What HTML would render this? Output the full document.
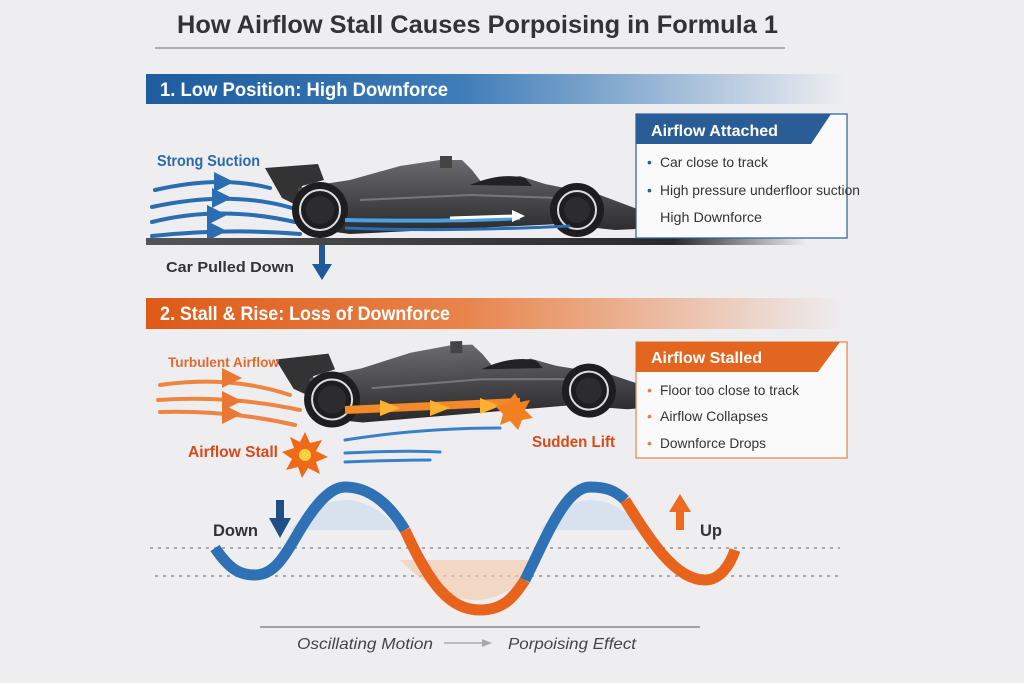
<!DOCTYPE html>
<html><head><meta charset="utf-8"><style>
html,body{margin:0;padding:0;background:#eeeef1;}
svg{display:block;}
text{font-family:"Liberation Sans",sans-serif;}
</style></head><body>
<svg width="1024" height="683" viewBox="0 0 1024 683" xmlns="http://www.w3.org/2000/svg">
<defs>
<linearGradient id="gb" x1="0" x2="1"><stop offset="0" stop-color="#1d5c9e"/><stop offset="0.45" stop-color="#3f7db8"/><stop offset="1" stop-color="#3f7db8" stop-opacity="0"/></linearGradient>
<linearGradient id="go" x1="0" x2="1"><stop offset="0" stop-color="#de5a18"/><stop offset="0.45" stop-color="#e8834a"/><stop offset="1" stop-color="#e8834a" stop-opacity="0"/></linearGradient>
<linearGradient id="gt" x1="0" x2="1"><stop offset="0" stop-color="#555"/><stop offset="0.8" stop-color="#2a2a2a"/><stop offset="1" stop-color="#2a2a2a" stop-opacity="0"/></linearGradient>
<linearGradient id="gbody" x1="0" y1="0" x2="0" y2="1"><stop offset="0" stop-color="#6a6a6e"/><stop offset="1" stop-color="#2a2a2d"/></linearGradient>
<marker id="ab" viewBox="0 0 10 10" refX="5" refY="5" markerWidth="5" markerHeight="5" orient="auto"><path d="M0,0L10,5L0,10z" fill="#2a6db0"/></marker>
<marker id="ao" viewBox="0 0 10 10" refX="5" refY="5" markerWidth="5" markerHeight="5" orient="auto"><path d="M0,0L10,5L0,10z" fill="#ea6b1e"/></marker>
<g id="car">
 <path d="M265,168 L318,164 L324,180 L302,186 L296,205 L282,198 Z" fill="#333"/>
 <path d="M298,188 L350,180 L400,166 L440,160 L462,160 L472,170 L482,183 L520,176 L545,184 L600,195 L640,210 L655,222 L655,228 L615,230 L560,224 L350,234 L305,228 Z" fill="url(#gbody)"/>
 <path d="M440,156 h12 v12 h-12z" fill="#444"/>
 <path d="M470,185 Q500,172 525,178 L532,186 Z" fill="#222"/>
 <path d="M360,200 L470,195 L560,198" stroke="#777" stroke-width="2" fill="none"/>
 <circle cx="320" cy="210" r="28" fill="#1e1e20"/><circle cx="320" cy="210" r="20" fill="none" stroke="#ddd" stroke-width="2"/><circle cx="320" cy="210" r="14" fill="#2c2c2e"/>
 <circle cx="577" cy="210" r="27" fill="#1e1e20"/><circle cx="577" cy="210" r="19" fill="none" stroke="#ddd" stroke-width="2"/><circle cx="577" cy="210" r="13" fill="#2c2c2e"/>
</g>
</defs>

<text x="177" y="33" font-size="25" font-weight="bold" fill="#333" textLength="601" lengthAdjust="spacingAndGlyphs">How Airflow Stall Causes Porpoising in Formula 1</text>
<line x1="155" y1="48" x2="785" y2="48" stroke="#9a9a9a" stroke-width="1.5"/>

<!-- Section 1 -->
<rect x="146" y="74" width="700" height="30" fill="url(#gb)"/>
<text x="160" y="96" font-size="19" font-weight="bold" fill="#fff" textLength="288" lengthAdjust="spacingAndGlyphs">1. Low Position: High Downforce</text>

<text x="157" y="166" font-size="16" font-weight="bold" fill="#2a6aa8" textLength="103" lengthAdjust="spacingAndGlyphs">Strong Suction</text>
<g fill="none" stroke="#2a6db0" stroke-width="4" stroke-linecap="round">
<path d="M155,190 Q220,175 270,188"/>
<path d="M152,207 Q230,190 292,208"/>
<path d="M152,222 Q220,205 295,222"/>
<path d="M152,236 Q230,228 300,234"/>
<path d="M222,182 l2,0" marker-end="url(#ab)"/>
<path d="M220,198 l2,0" marker-end="url(#ab)"/>
<path d="M215,215 l2,0" marker-end="url(#ab)"/>
<path d="M215,231 l2,0" marker-end="url(#ab)"/>
</g>
<rect x="146" y="238" width="660" height="7" fill="url(#gt)"/>
<use href="#car"/>
<path d="M345,220 Q450,222 520,218" stroke="#4aa0e0" stroke-width="4" fill="none"/>
<path d="M345,228 Q450,232 570,226" stroke="#2a6db0" stroke-width="3" fill="none"/>
<path d="M450,218 L515,216" stroke="#fff" stroke-width="3"/><path d="M512,210 L525,216 L512,222z" fill="#fff"/>
<text x="166" y="272" font-size="15" font-weight="bold" fill="#333" textLength="128" lengthAdjust="spacingAndGlyphs">Car Pulled Down</text>
<rect x="319" y="245" width="6" height="20" fill="#1e5a99"/><path d="M312,264 L332,264 L322,280z" fill="#1e5a99"/>

<rect x="636" y="114" width="211" height="124" fill="#fafafb" stroke="#2a5d96" stroke-width="1.2"/>
<path d="M636,114 H831 L811,144 H636z" fill="#2a5d96"/>
<text x="651" y="136" font-size="16" font-weight="bold" fill="#fff" textLength="127" lengthAdjust="spacingAndGlyphs">Airflow Attached</text>
<g font-size="14" fill="#333">
<text x="647" y="167" fill="#2a5d96">•</text><text x="660" y="167" textLength="108" lengthAdjust="spacingAndGlyphs">Car close to track</text>
<text x="647" y="195" fill="#2a5d96">•</text><text x="660" y="195" textLength="200" lengthAdjust="spacingAndGlyphs">High pressure underfloor suction</text>
<text x="660" y="222" textLength="102" lengthAdjust="spacingAndGlyphs">High Downforce</text>
</g>

<!-- Section 2 -->
<rect x="146" y="298" width="700" height="31" fill="url(#go)"/>
<text x="160" y="320" font-size="19" font-weight="bold" fill="#fff" textLength="290" lengthAdjust="spacingAndGlyphs">2. Stall &amp; Rise: Loss of Downforce</text>

<g fill="none" stroke="#ee7a2e" stroke-width="4" stroke-linecap="round" opacity="0.9">
<path d="M160,385 Q230,375 290,395"/>
<path d="M158,400 Q230,395 300,410"/>
<path d="M160,412 Q230,410 295,425"/>
<path d="M230,378 l2,0" marker-end="url(#ao)"/>
<path d="M230,401 l2,0" marker-end="url(#ao)"/>
<path d="M230,414 l2,0" marker-end="url(#ao)"/>
</g>
<use href="#car" transform="translate(12,185) rotate(-2 450 210)"/>
<text x="168" y="367" font-size="14" font-weight="bold" fill="#e06a30" textLength="111" lengthAdjust="spacingAndGlyphs">Turbulent Airflow</text>
<path d="M345,410 L520,402" stroke="#f28a2a" stroke-width="8"/>
<path d="M380,400 l20,8 l-20,8z M430,400 l20,8 l-20,8z M480,398 l20,8 l-20,8z" fill="#ffb030"/>
<polygon points="515,393 520,402 530,400 525,410 533,418 522,420 518,430 510,421 500,425 503,414 495,406 506,404" fill="#f08020"/>
<g fill="none" stroke="#3a80c8" stroke-width="3" stroke-linecap="round">
<path d="M345,440 Q420,428 500,428"/>
<path d="M345,453 Q410,450 440,452"/>
<path d="M345,462 Q400,460 430,460"/>
</g>
<text x="188" y="457" font-size="16" font-weight="bold" fill="#d84a1a" textLength="90" lengthAdjust="spacingAndGlyphs">Airflow Stall</text>
<polygon points="305,432 310,443 322,440 316,451 328,457 316,462 320,474 308,468 302,478 298,467 286,470 292,459 282,452 294,448 290,437 300,442" fill="#ee6a18"/>
<circle cx="305" cy="455" r="6" fill="#ffd040"/>
<text x="532" y="447" font-size="16" font-weight="bold" fill="#d84a1a" textLength="83" lengthAdjust="spacingAndGlyphs">Sudden Lift</text>

<rect x="636" y="342" width="211" height="116" fill="#fafafb" stroke="#e8814a" stroke-width="1.2"/>
<path d="M636,342 H840 L818,372 H636z" fill="#e2661f"/>
<text x="651" y="363" font-size="16" font-weight="bold" fill="#fff" textLength="111" lengthAdjust="spacingAndGlyphs">Airflow Stalled</text>
<g font-size="14" fill="#333">
<text x="647" y="395" fill="#e8814a">•</text><text x="660" y="395" textLength="139" lengthAdjust="spacingAndGlyphs">Floor too close to track</text>
<text x="647" y="421" fill="#e8814a">•</text><text x="660" y="421" textLength="108" lengthAdjust="spacingAndGlyphs">Airflow Collapses</text>
<text x="647" y="448" fill="#e8814a">•</text><text x="660" y="448" textLength="106" lengthAdjust="spacingAndGlyphs">Downforce Drops</text>
</g>

<!-- Wave -->
<line x1="150" y1="548" x2="840" y2="548" stroke="#aaa" stroke-width="2" stroke-dasharray="3,5"/>
<line x1="155" y1="576" x2="838" y2="576" stroke="#aaa" stroke-width="2" stroke-dasharray="3,5"/>
<path d="M290,530 Q345,470 400,530 Z" fill="#c9dbee" opacity="0.6"/>
<path d="M540,530 Q590,470 645,530 Z" fill="#c9dbee" opacity="0.6"/>
<path d="M400,560 Q480,640 540,560 Z" fill="#f6c8a8" opacity="0.6"/>
<path d="M215,548 C230,570 240,575 255,575 C275,575 285,555 300,530 C315,505 330,487 345,487 C370,487 390,505 405,530" fill="none" stroke="#2e72b5" stroke-width="11"/>
<path d="M405,530 C430,585 450,610 480,610 C505,610 515,595 525,580" fill="none" stroke="#e8631c" stroke-width="11"/>
<path d="M525,580 C545,540 565,487 590,487 C605,487 615,490 625,500" fill="none" stroke="#2e72b5" stroke-width="11"/>
<path d="M625,500 C650,540 675,580 705,580 C720,580 730,565 735,550" fill="none" stroke="#e8631c" stroke-width="11"/>
<text x="213" y="536" font-size="17" font-weight="bold" fill="#333" textLength="45" lengthAdjust="spacingAndGlyphs">Down</text>
<rect x="276" y="500" width="8" height="20" fill="#1e4f85"/><path d="M269,518 L291,518 L280,538z" fill="#1e4f85"/>
<rect x="676" y="510" width="8" height="20" fill="#ee6a1e"/><path d="M669,512 L691,512 L680,494z" fill="#ee6a1e"/>
<text x="700" y="536" font-size="17" font-weight="bold" fill="#333" textLength="22" lengthAdjust="spacingAndGlyphs">Up</text>
<line x1="260" y1="627" x2="700" y2="627" stroke="#888" stroke-width="1.5"/>
<text x="297" y="649" font-size="16" font-style="italic" fill="#444" textLength="136" lengthAdjust="spacingAndGlyphs">Oscillating Motion</text>
<line x1="444" y1="643" x2="482" y2="643" stroke="#aaa" stroke-width="1.5"/><path d="M482,639 L492,643 L482,647z" fill="#aaa"/>
<text x="508" y="649" font-size="16" font-style="italic" fill="#444" textLength="128" lengthAdjust="spacingAndGlyphs">Porpoising Effect</text>
</svg>
</body></html>
